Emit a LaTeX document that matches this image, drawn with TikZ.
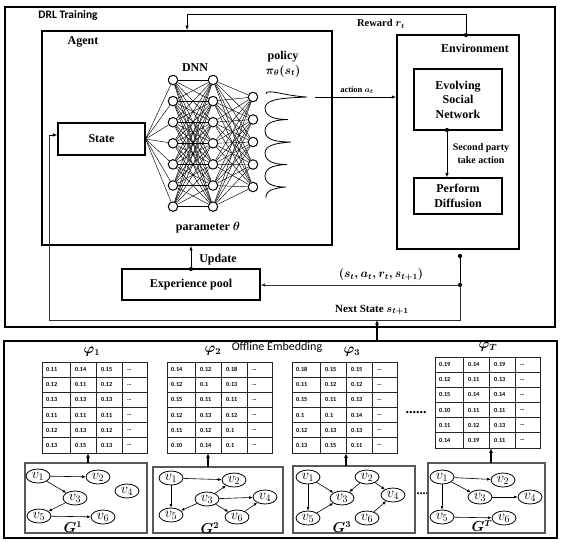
\documentclass[tikz,border=0pt]{standalone}
\usepackage{fontspec}
\setmainfont{Liberation Serif}
\newfontfamily\carl{Carlito}
\usepackage{amsmath,bm}
\usetikzlibrary{shapes.geometric,arrows.meta,backgrounds,calc}
\tikzset{
  lbl/.style={font=\fontsize{12}{14}\selectfont\bfseries\boldmath, inner sep=0pt, align=center},
  boxa/.style={draw, line width=1.1pt, inner sep=0pt, align=center, font=\fontsize{12}{14.5}\selectfont\bfseries},
  bigbox/.style={draw, line width=1.8pt, inner sep=0pt},
  arr/.style={-{Latex[length=4.5pt,width=3.5pt]}, line width=0.8pt},
  dotn/.style={circle, fill, inner sep=0pt, minimum size=4.2pt},
  neuron/.style={circle, draw, line width=1pt, fill=white, minimum size=9.5pt, inner sep=0pt},
  nn/.style={line width=0.45pt},
  gnode/.style={ellipse, draw, line width=0.8pt, minimum width=24pt, minimum height=14pt, inner sep=0pt, font=\fontsize{14.5}{14}\selectfont},
  gbox/.style={draw=black!65, line width=1.3pt},
  garr/.style={-{Latex[length=3.5pt,width=3pt]}, line width=0.6pt},
  uparr/.style={-{Latex[length=4.5pt,width=4pt]}, line width=1.5pt},
  cell/.style={anchor=west, inner sep=0pt, font=\carl\bfseries\fontsize{6.2}{7}\selectfont},
  tabframe/.style={draw=black!85, line width=0.7pt, inner sep=0pt},
  tabline/.style={draw=black!85, line width=0.6pt},
  philbl/.style={inner sep=0pt, font=\fontsize{13.5}{13}\selectfont\boldmath},
}
\newcommand{\embtab}[4]{%
  \node[tabframe, minimum width=105pt, minimum height=91pt] (#1) at ({#2+52.5},{#3+45.5}) {};
  \foreach \k in {1,...,5} \draw[tabline] ($(#1.north west)+(0,{\k*91/6})$) -- ($(#1.north east)+(0,{\k*91/6})$);
  \foreach \xo in {29,55,81} \draw[tabline] ($(#1.north west)+(\xo,0)$) -- ($(#1.south west)+(\xo,0)$);
  \foreach \rowvals [count=\r] in {#4} {
    \foreach \v [count=\c] in \rowvals {
      \pgfmathsetmacro\cx{#2+4+{0,29,55,81}[\c-1]}
      \pgfmathsetmacro\cy{#3+(\r-0.5)*91/6}
      \node[cell] (#1-\r-\c) at (\cx,\cy) {\v};
    }
    \pgfmathsetmacro\cy{#3+(\r-0.5)*91/6}
    \node[cell] (#1-\r-4) at ({#2+85},\cy) {\ldots};
  }
}
\begin{document}
\begin{tikzpicture}[x=1pt,y=-1pt]
\useasboundingbox (0,0) rectangle (562,542);

% ---------- DRL training ----------
\node[bigbox, minimum width=550pt, minimum height=320pt] (drl) at (280,167) {};
\node[inner sep=0pt, font=\carl\bfseries\fontsize{11.5}{12}\selectfont] (drltxt) at (68,15) {DRL Training};

\node[bigbox, minimum width=290pt, minimum height=214pt] (agent) at (187,138) {};
\node[lbl] (agenttxt) at (83,42) {Agent};

\node[bigbox, line width=1.5pt, minimum width=122pt, minimum height=214pt] (env) at (458,142) {};
\node[lbl] (envtxt) at (475,48) {Environment};

\node[boxa, minimum width=88pt, minimum height=61pt] (esn) at (458,99.5) {Evolving\\Social\\Network};
\node[boxa, minimum width=88pt, minimum height=36pt] (pd) at (458,196) {Perform\\Diffusion};
\node[lbl, font=\fontsize{10}{13}\selectfont\bfseries] (second) at (481,153.5) {Second party\\take action};

\node[boxa, minimum width=87pt, minimum height=32pt] (state) at (101.5,139) {State};
\node[boxa, minimum width=138pt, minimum height=31pt] (exp) at (191,284.5) {Experience pool};

% DNN
\foreach \i in {1,...,7} \node[neuron] (a\i) at (173,{80+(\i-1)*21.1}) {};
\foreach \i in {1,...,7} \node[neuron] (b\i) at (213,{80+(\i-1)*21.1}) {};
\foreach \i in {1,...,5} \node[neuron] (c\i) at (253,{97+(\i-1)*22.5}) {};
\begin{scope}[on background layer]
  \foreach \i in {1,...,7} \draw[nn] (state.east) -- (a\i);
  \foreach \i in {1,...,7} \foreach \j in {1,...,7} \draw[nn] (a\i) -- (b\j);
  \foreach \i in {1,...,7} \foreach \j in {1,...,5} \draw[nn] (b\i) -- (c\j);
\end{scope}
\node[lbl] (dnntxt) at (195,68) {DNN};
\node[lbl] (paramtxt) at (208,228) {parameter $\theta$};
\node[lbl, font=\fontsize{12}{15}\selectfont\bfseries\boldmath] (policytxt) at (283,64) {policy\\$\pi_\theta(s_t)$};

% policy curve
\draw[line width=0.8pt] (266,94) .. controls (266,88) and (285,96) .. (307,97)
  .. controls (288,98) and (265,98) .. (265,108)
  .. controls (265,118) and (278,119.5) .. (288,119.5)
  .. controls (278,120) and (265,121) .. (265,131)
  .. controls (265,141) and (280,142) .. (291,142)
  .. controls (280,143) and (265,144) .. (265,153)
  .. controls (265,163) and (278,164.5) .. (287,164.5)
  .. controls (278,165) and (265,166) .. (265,176)
  .. controls (265,186) and (278,187) .. (286,187)
  .. controls (275,188) and (265,190) .. (266,198);

% reward
\node[dotn] (rdot) at (466,35) {};
\coordinate (rc1) at (187,14);
\draw[arr] (rdot.center) |- (rc1) -- (rc1 |- agent.north);
\node[lbl, font=\fontsize{10.5}{12}\selectfont\bfseries\boldmath] (rewardtxt) at (381,24) {Reward $r_t$};

% action
\coordinate (act) at (315,97);
\draw[arr] (act) -- (act -| env.west);
\node[lbl, font=\fontsize{8.5}{10}\selectfont\bfseries\boldmath] (actiontxt) at (357,90) {action $a_t$};

% second party
\node[dotn] (sdot) at (447,130) {};
\draw[arr] (sdot.center) -- (sdot.center |- pd.north);

% experience / next state
\node[dotn] (edot) at (460,256) {};
\node[dotn] (jdot) at (460,285) {};
\coordinate (c1) at (460,320);
\coordinate (c2) at (49,320);
\coordinate (c3) at (49,135);
\draw[line width=0.8pt] (edot.center) -- (jdot.center);
\draw[arr, draw=black!80] (jdot.center) -- (jdot.center -| exp.east);
\draw[line width=0.8pt, draw=black!80] (jdot.center) -- (c1) -- (c2) -- (c3);
\draw[arr] (c3) -- (c3 -| state.west);
\node[lbl] (tuple) at (381,275) {$(s_t,a_t,r_t,s_{t+1})$};
\node[lbl, font=\fontsize{11}{12}\selectfont\bfseries\boldmath] (nexttxt) at (372,310) {Next State $s_{t+1}$};

\node[dotn] (udot) at (191,269) {};
\draw[arr] (udot.center) -- (udot.center |- agent.south);
\node[lbl] (updtxt) at (218,260) {Update};

% ---------- Offline embedding ----------
\node[bigbox, minimum width=553pt, minimum height=197pt] (off) at (280.5,439.5) {};
\node[inner sep=0pt, font=\carl\fontsize{12}{12}\selectfont] (offtxt) at (277,347) {Offline Embedding};
\coordinate (oe) at (377,341);
\draw[uparr] (oe) -- (oe |- c1);

\embtab{t1}{42}{362}{{0.11,0.14,0.15},{0.12,0.11,0.12},{0.13,0.13,0.13},{0.11,0.11,0.11},{0.12,0.13,0.12},{0.13,0.15,0.13}}
\embtab{t2}{167}{362}{{0.14,0.12,0.18},{0.12,0.1,0.13},{0.15,0.11,0.11},{0.12,0.13,0.12},{0.11,0.12,0.1},{0.10,0.14,0.1}}
\embtab{t3}{292}{362}{{0.18,0.15,0.15},{0.11,0.12,0.12},{0.15,0.11,0.13},{0.1,0.1,0.14},{0.12,0.13,0.13},{0.13,0.15,0.11}}
\embtab{t4}{435}{357}{{0.19,0.14,0.19},{0.12,0.11,0.13},{0.15,0.14,0.14},{0.10,0.11,0.11},{0.11,0.12,0.13},{0.14,0.19,0.11}}

\node[philbl] (phi1) at (92,352) {$\varphi_1$};
\node[philbl] (phi2) at (213,351) {$\varphi_2$};
\node[philbl] (phi3) at (352,352) {$\varphi_3$};
\node[philbl] (phiT) at (488,347) {$\varphi_T$};

\node[inner sep=0pt, font=\fontsize{14}{14}\selectfont\bfseries] (dots1) at (416,413) {......};
\node[inner sep=0pt, font=\fontsize{12}{12}\selectfont\bfseries] (dots2) at (421,494) {.....};

% graph G1
\node[gbox, minimum width=122pt, minimum height=70pt] (g1) at (86,498) {};
\node[gnode] (p1) at (38,476) {$v_1$};
\node[gnode] (p2) at (98,477) {$v_2$};
\node[gnode] (p3) at (75,498) {$v_3$};
\node[gnode] (p4) at (127,491) {$v_4$};
\node[gnode] (p5) at (39,516) {$v_5$};
\node[gnode] (p6) at (103,517) {$v_6$};
\draw[garr] (p1) -- (p2);
\draw[garr] (p1) -- (p3);
\draw[garr] (p3) -- (p5);
\draw[garr] (p5) -- (p6);
\node[philbl] (G1) at (73,527) {$G^1$};

% graph G2
\node[gbox, minimum width=130pt, minimum height=66pt] (g2) at (218,500) {};
\node[gnode] (q1) at (171,478) {$v_1$};
\node[gnode] (q2) at (234,480) {$v_2$};
\node[gnode] (q3) at (207,499) {$v_3$};
\node[gnode] (q4) at (265,497) {$v_4$};
\node[gnode] (q5) at (171,515) {$v_5$};
\node[gnode] (q6) at (237,517) {$v_6$};
\draw[garr] (q1) -- (q2);
\draw[garr] (q1) -- (q5);
\draw[garr] (q3) -- (q2);
\draw[garr] (q3) -- (q4);
\draw[garr] (q3) -- (q5);
\draw[garr] (q3) -- (q6);
\draw[garr] (q6) -- (q4);
\node[philbl] (G2) at (210,528) {$G^2$};

% graph G3
\node[gbox, minimum width=122pt, minimum height=67pt] (g3) at (354,499.5) {};
\node[gnode] (r1) at (308,477) {$v_1$};
\node[gnode] (r2) at (367,477) {$v_2$};
\node[gnode] (r3) at (342,498) {$v_3$};
\node[gnode] (r4) at (393,495) {$v_4$};
\node[gnode] (r5) at (308,518) {$v_5$};
\node[gnode] (r6) at (367,518) {$v_6$};
\draw[garr] (r1) -- (r3);
\draw[garr] (r1) -- (r5);
\draw[garr] (r5) -- (r3);
\draw[garr] (r2) -- (r3);
\draw[garr] (r2) -- (r4);
\draw[garr] (r6) -- (r4);
\node[philbl] (G3) at (342,527) {$G^3$};

% graph GT
\node[gbox, minimum width=117pt, minimum height=70pt] (g4) at (486.5,498) {};
\node[gnode] (s1) at (442,477) {$v_1$};
\node[gnode] (s2) at (503,480) {$v_2$};
\node[gnode] (s3) at (480,497) {$v_3$};
\node[gnode] (s4) at (530,497) {$v_4$};
\node[gnode] (s5) at (442,517) {$v_5$};
\node[gnode] (s6) at (504,518) {$v_6$};
\draw[garr] (s1) -- (s2);
\draw[garr] (s1) -- (s3);
\draw[garr] (s1) -- (s5);
\draw[garr] (s3) -- (s4);
\draw[garr] (s5) -- (s6);
\node[philbl] (GT) at (482,526) {$G^T$};

% graph -> table arrows
\coordinate (ga1) at (88,463);
\coordinate (ga2) at (208,467);
\coordinate (ga3) at (346,466);
\coordinate (ga4) at (491,463);
\draw[uparr, line width=1.2pt] (ga1) -- (ga1 |- t1.south);
\draw[uparr, line width=1.2pt] (ga2) -- (ga2 |- t2.south);
\draw[uparr, line width=1.2pt] (ga3) -- (ga3 |- t3.south);
\draw[uparr, line width=1.2pt] (ga4) -- (ga4 |- t4.south);
\end{tikzpicture}
\end{document}
